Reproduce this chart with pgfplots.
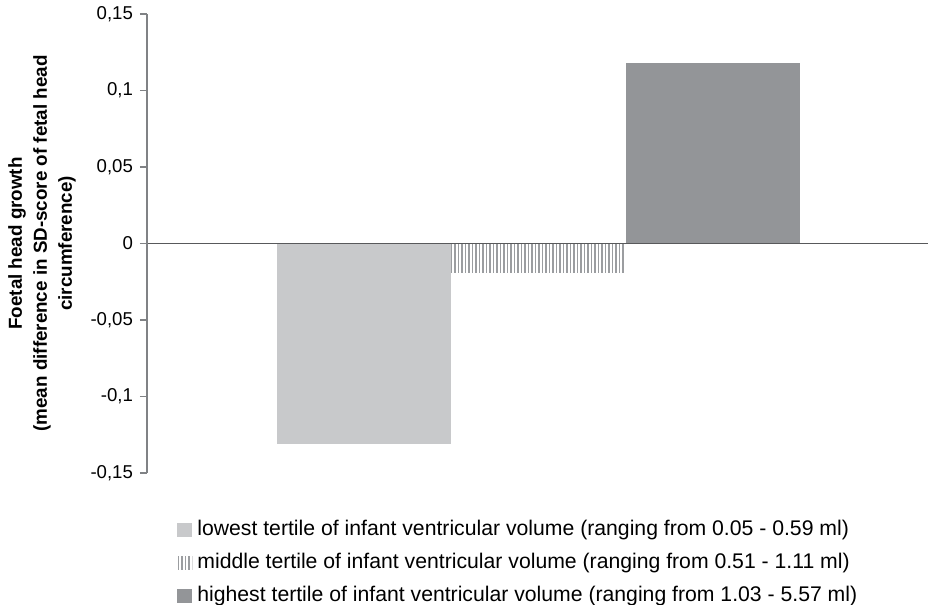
\documentclass[border=0pt]{standalone}
\usepackage{fontspec}
\setmainfont{Liberation Sans}
\usepackage{pgfplots}
\pgfplotsset{compat=1.18}
\usetikzlibrary{patterns.meta}

\definecolor{lowgray}{HTML}{C8C9CB}
\definecolor{highgray}{HTML}{939598}
\definecolor{stripegray}{HTML}{9B9DA0}
\definecolor{axisgray}{HTML}{808285}
\definecolor{zerogray}{HTML}{58595B}

\begin{document}
\begin{tikzpicture}
% page size: 1px of the reference = 0.5pt
\path[use as bounding box] (-73.5pt,-66pt) rectangle (390.5pt,236.5pt);
\begin{axis}[
  name=ax,
  scale only axis,
  width=390.5pt, height=229.5pt,
  xmin=0, xmax=781,
  ymin=-0.15, ymax=0.15,
  axis x line=middle, axis y line=left,
  axis line style={-},
  x axis line style={draw=zerogray, line width=0.75pt},
  y axis line style={draw=axisgray, line width=0.7pt},
  axis on top,
  xtick=\empty,
  ytick={-0.15,-0.1,-0.05,0,0.05,0.1,0.15},
  tick align=outside,
  major tick length=3.5pt,
  y tick style={draw=axisgray, line width=0.6pt},
  yticklabel style={/pgf/number format/.cd, fixed, use comma, precision=2, assume math mode=true},
  tick label style={font=\fontsize{9.3}{11}\selectfont},
  ylabel={Foetal head growth\\(mean difference in SD-score of fetal head\\circumference)},
  every axis y label/.style={at={(axis description cs:-0.1344,0.5)}, rotate=90, anchor=center,
    align=center, font=\fontsize{9.4}{12.5}\selectfont\bfseries},
  legend image code/.code={\fill[#1] (0pt,-3.4pt) rectangle (7.5pt,3.4pt);},
  legend cell align=left,
  legend style={draw=none, fill=none, at={(axis description cs:0.0384,-0.102)}, anchor=north west,
    inner sep=0pt, row sep=6.7pt, column sep=2.5pt, font=\fontsize{10.6}{12.7}\selectfont,
    nodes={inner sep=0pt, text height=7.6pt, text depth=2.2pt}},
]
\addplot[ybar, bar width=174.5, bar shift=0pt, fill=lowgray, draw=none]
  coordinates {(217,-0.131)};
\addplot[ybar, bar width=174.5, bar shift=0pt, draw=none,
  pattern={Lines[angle=90,distance=1.75pt,line width=0.95pt]}, pattern color=stripegray]
  coordinates {(391.5,-0.019)};
\addplot[ybar, bar width=174.5, bar shift=0pt, fill=highgray, draw=none]
  coordinates {(566,0.118)};
\legend{lowest tertile of infant ventricular volume (ranging from 0.05 - 0.59 ml),
  middle tertile of infant ventricular volume (ranging from 0.51 - 1.11 ml),
  highest tertile of infant ventricular volume (ranging from 1.03 - 5.57 ml)}
\end{axis}
\end{tikzpicture}
\end{document}
